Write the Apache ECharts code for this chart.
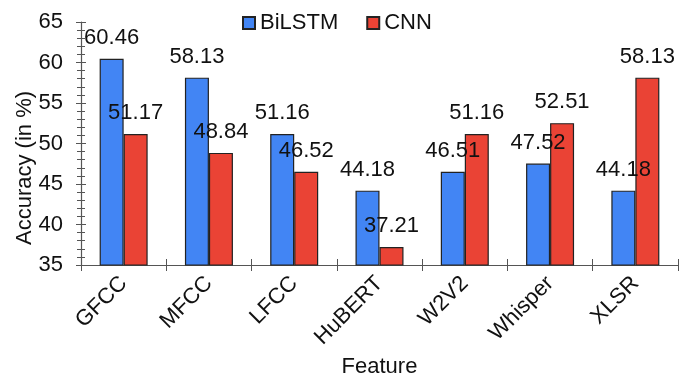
<!DOCTYPE html>
<html><head><meta charset="utf-8">
<script src="https://cdn.jsdelivr.net/npm/echarts@6/dist/echarts.min.js"></script>
<style>html,body{margin:0;padding:0;background:#fff}#c{width:680px;height:374px}</style>
</head><body><div id="c"></div>
<script>
const categories = ['GFCC','MFCC','LFCC','HuBERT','W2V2','Whisper','XLSR'];
const bilstm = [60.46, 58.13, 51.16, 44.18, 46.51, 47.52, 44.18];
const cnn = [51.17, 48.84, 46.52, 37.21, 51.16, 52.51, 58.13];
const seriesNames = ['BiLSTM','CNN'];
const yMin = 35, yMax = 65, yStep = 5;
const yTitle = 'Accuracy (in %)';
const xTitle = 'Feature';

const FONT = 'Liberation Sans, Arial, sans-serif';
const AX = '#555';
const TXT = '#111';
const FS = 22;
const chart = echarts.init(document.getElementById('c'), null, {renderer:'canvas'});
const lbl = {show:true, position:'top', distance:10, color:TXT, fontSize:FS, fontFamily:FONT,
  formatter: p => p.value.toFixed(2)};
chart.setOption({
  animation:false,
  textStyle:{fontFamily:FONT},
  legend:{top:12, left:242, itemWidth:12, itemHeight:12, itemGap:28, padding:0,
    textStyle:{fontSize:FS, color:TXT, fontFamily:FONT},
    data: seriesNames.map(n=>({name:n, icon:'rect'}))},
  grid:{left:81, right:2, top:22, bottom:109, containLabel:false, outerBoundsMode:'none'},
  graphic:[{type:'text', x:25, y:168, rotation:Math.PI/2,
    style:{text:yTitle, font:FS+'px Liberation Sans, Arial, sans-serif', fill:TXT, align:'center', verticalAlign:'middle'}}],
  xAxis:[{type:'category', data:categories, name:xTitle, nameLocation:'middle', nameGap:88,
    nameTextStyle:{fontSize:FS, color:TXT},
    axisLine:{lineStyle:{color:AX, width:1.2}},
    axisTick:{show:true, inside:false, length:6, lineStyle:{color:AX}},
    axisLabel:{rotate:45, fontSize:FS, color:TXT, margin:15}},
   {type:'category', data:categories, position:'bottom', axisLine:{show:false},
    axisTick:{show:true, inside:true, length:6, lineStyle:{color:AX}}, axisLabel:{show:false}}],
  yAxis:[{type:'value', min:yMin, max:yMax, interval:yStep,
    axisLine:{show:true, lineStyle:{color:AX, width:1.2}},
    axisTick:{show:true, length:5, lineStyle:{color:AX}},
    minorTick:{show:true, splitNumber:5, length:4, lineStyle:{color:AX}},
    splitLine:{show:false},
    axisLabel:{fontSize:FS, color:TXT, margin:18}},
   {type:'value', min:yMin, max:yMax, interval:yStep, position:'left', 
    axisLine:{show:false}, axisTick:{show:true, inside:true, length:5, lineStyle:{color:AX}},
    minorTick:{show:true, splitNumber:5, length:4, lineStyle:{color:AX}},
    splitLine:{show:false}, axisLabel:{show:false}}],
  series:[
    {name:seriesNames[0], type:'bar', data:bilstm, barWidth:24, barGap:'0%',
     itemStyle:{color:'#4285F4', borderColor:'#222', borderWidth:1.2}, label:lbl},
    {name:seriesNames[1], type:'bar', data:cnn, barWidth:24, barGap:'0%',
     itemStyle:{color:'#EA4335', borderColor:'#222', borderWidth:1.2}, label:lbl}
  ]
});
</script></body></html>
